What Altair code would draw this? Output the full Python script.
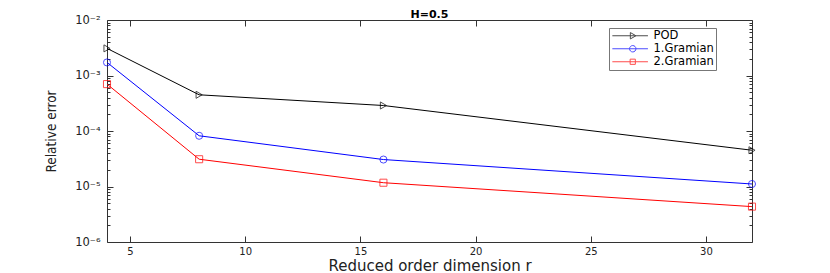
import altair as alt
import pandas as pd
import math

r_values = [4, 8, 16, 32]
pod = [3.08e-3, 4.49e-4, 2.88e-4, 4.5e-5]
gram1 = [1.72e-3, 8.2e-5, 3.06e-5, 1.11e-5]
gram2 = [7.0e-4, 3.1e-5, 1.17e-5, 4.34e-6]
series_names = ["POD", "1.Gramian", "2.Gramian"]
series_colors = ["#000000", "#0000ff", "#ff0000"]
marker_shapes = ["triangle-right", "circle", "square"]
x_ticks = [5, 10, 15, 20, 25, 30]
y_ticks = [1e-2, 1e-3, 1e-4, 1e-5, 1e-6]
y_tick_labels = ["10\u207b\u00b2", "10\u207b\u00b3", "10\u207b\u2074", "10\u207b\u2075", "10\u207b\u2076"]
y_minor = [k * 10.0 ** e for e in range(-6, -2) for k in range(2, 10)]
chart_title = "H=0.5"

W, H = 645, 222
FONT = "DejaVu Sans"
NARROW = "'Liberation Sans Narrow', 'DejaVu Sans Condensed', 'Roboto Condensed', 'Liberation Sans', sans-serif"
AX = "#333333"

rows = []
for name, vals in zip(series_names, [pod, gram1, gram2]):
    for r, v in zip(r_values, vals):
        rows.append({"r": r, "err": v, "series": name})
df = pd.DataFrame(rows)

xs = alt.Scale(domain=[4, 32], nice=False, zero=False)
ys = alt.Scale(type="log", domain=[1e-6, 1e-2], nice=False)
cs = alt.Scale(domain=series_names, range=series_colors)

expr = "''"
for v, lab in reversed(list(zip(y_ticks, y_tick_labels))):
    expr = f"(abs(log(datum.value)/LN10 - ({math.log10(v):.0f})) < 0.1 ? '{lab}' : {expr})"

# legend symbol paths: line + marker (unit = sqrt(size)/2 px)
legend_paths = [
    "M-1.1,0H7.8M3.4,-0.8L4.8,0L3.4,0.8Z",
    "M-1.1,0H7.8M4.8,0A0.8,0.8 0 1 1 3.2,0A0.8,0.8 0 1 1 4.8,0Z",
    "M-1.1,0H7.8M3.35,-0.65H4.65V0.65H3.35Z",
]

base = alt.Chart(df)

lines = base.mark_line(strokeWidth=1).encode(
    x=alt.X("r:Q", scale=xs, axis=alt.Axis(values=x_ticks, tickSize=0, domain=False, grid=False,
                                           labelFont=FONT, labelFontSize=10, labelColor="#222",
                                           labelPadding=4, title="Reduced order dimension r",
                                           titleFont=FONT, titleFontSize=15, titleFontWeight="normal",
                                           titleBaseline="alphabetic", titleY=28, titleColor="#222")),
    y=alt.Y("err:Q", scale=ys, axis=alt.Axis(values=y_ticks, tickSize=0, domain=False, grid=False,
                                             labelExpr=expr, labelFont=FONT, labelFontSize=11.5,
                                             labelColor="#222", labelPadding=7,
                                             title="Relative error", titleFont=NARROW,
                                             titleFontSize=13.5, titleFontWeight="normal",
                                             titlePadding=16, titleColor="#222")),
    color=alt.Color("series:N", scale=cs, legend=None),
    detail="series:N",
)

points = base.mark_point(filled=False, strokeWidth=1, size=50, clip=False).encode(
    x=alt.X("r:Q", scale=xs, axis=None),
    y=alt.Y("err:Q", scale=ys, axis=None),
    color=alt.Color("series:N", scale=cs, legend=None),
    shape=alt.Shape("series:N", scale=alt.Scale(domain=series_names, range=marker_shapes), legend=None),
)

def axis_layer(xaxis, yaxis):
    return base.transform_filter("datum.r < 0").mark_point().encode(
        x=alt.X("r:Q", scale=xs, axis=xaxis),
        y=alt.Y("err:Q", scale=ys, axis=yaxis),
    )

def tick_axis(orient, offset, values, size):
    return alt.Axis(orient=orient, offset=offset, values=values, tickSize=size, labels=False,
                    domain=False, grid=False, title=None, minExtent=0, tickColor=AX, tickWidth=1)

ax1 = axis_layer(tick_axis("top", -H, x_ticks, 6), tick_axis("right", -W, y_ticks, 6))
ax2 = axis_layer(tick_axis("bottom", -H, x_ticks, 6), tick_axis("left", -W, y_ticks, 6))
ax3 = axis_layer(None, tick_axis("right", -W, y_minor, 3))
ax4 = axis_layer(None, tick_axis("left", -W, y_minor, 3))

leg = alt.Legend(orient="none", legendX=502, legendY=8, title=None, strokeColor="#777",
                 fillColor="white", padding=2, symbolSize=64, symbolStrokeWidth=1,
                 labelFont=FONT, labelFontSize=11.5, labelColor="#000", labelOffset=31,
                 rowPadding=0, cornerRadius=0)
legend_layer = base.transform_filter("datum.r < 0").mark_point(filled=False, strokeWidth=1).encode(
    color=alt.Color("series:N", scale=cs, legend=leg),
    shape=alt.Shape("series:N", scale=alt.Scale(domain=series_names, range=legend_paths), legend=leg),
)

title_layer = alt.Chart(alt.Data(values=[{"t": chart_title}])).mark_text(
    font=FONT, fontSize=11, fontWeight="bold", color="#000", baseline="alphabetic", align="center"
).encode(text="t:N", x=alt.value(W / 2), y=alt.value(-1.7))

chart = alt.layer(lines, points, ax1, ax2, ax3, ax4, legend_layer, title_layer).resolve_scale(
    color="independent", shape="independent"
).resolve_axis(x="independent", y="independent").properties(
    width=W, height=H,
    autosize=alt.AutoSizeParams(type="none"),
    padding={"left": 99, "top": 12, "right": 70, "bottom": 31},
).configure_view(stroke=AX, strokeWidth=1)

chart.save("out.html", embed_options={"renderer": "svg", "actions": False})
